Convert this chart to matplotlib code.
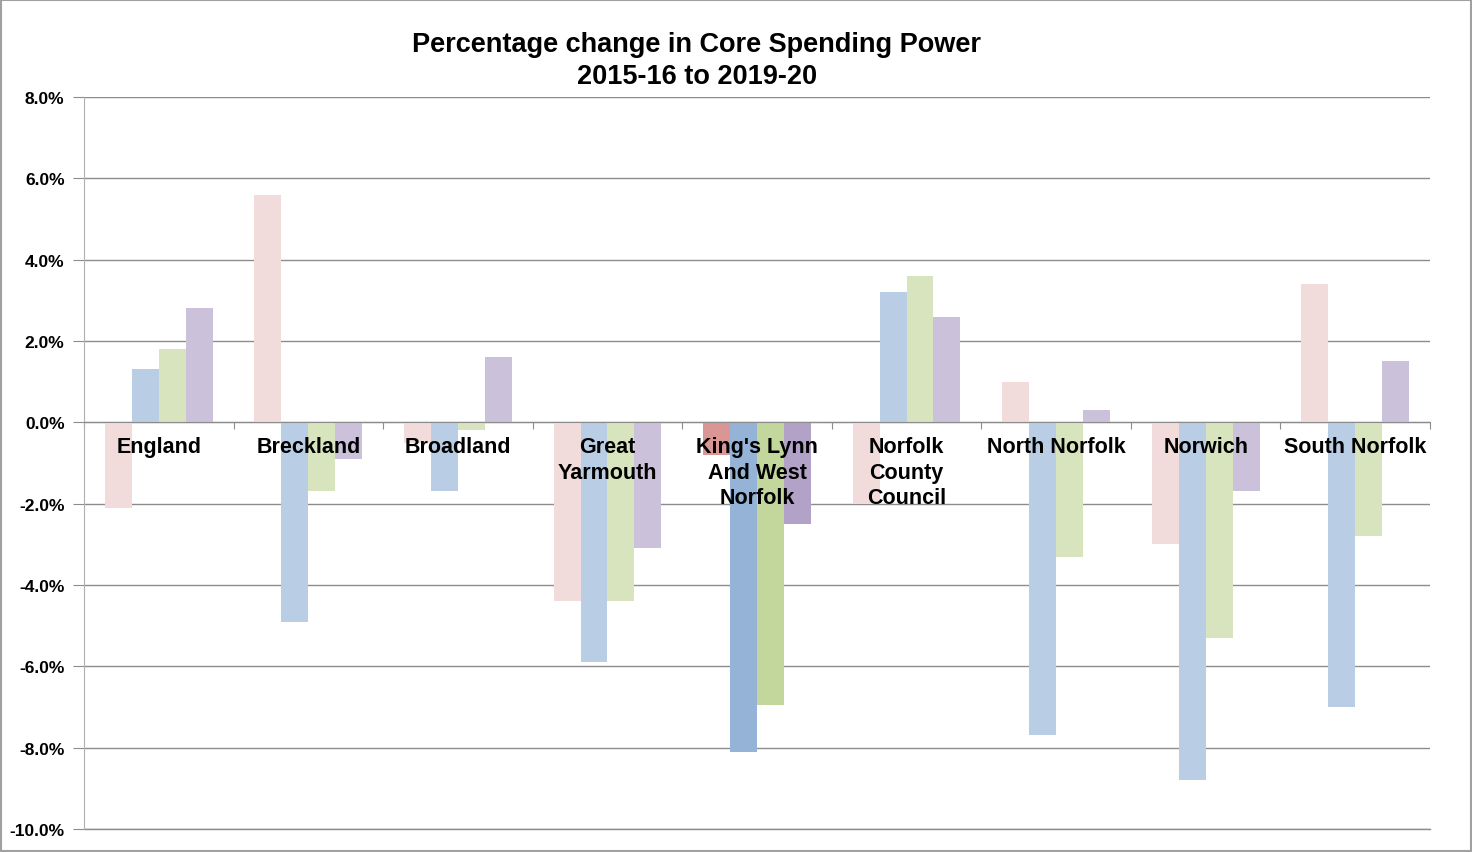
import matplotlib
matplotlib.use('Agg')
import matplotlib.pyplot as plt
import numpy as np

plt.rcParams['font.family'] = ['Liberation Sans', 'DejaVu Sans']

areas = ['England', 'Breckland', 'Broadland', 'Great\nYarmouth',
         "King's Lynn\nAnd West\nNorfolk", 'Norfolk\nCounty\nCouncil',
         'North Norfolk', 'Norwich', 'South Norfolk']
# four yearly series per area, percentage change
s1 = [-2.1, 5.6, -0.5, -4.4, -0.8, -2.0, 1.0, -3.0, 3.4]
s2 = [1.3, -4.9, -1.7, -5.9, -8.1, 3.2, -7.7, -8.8, -7.0]
s3 = [1.8, -1.7, -0.2, -4.4, -6.95, 3.6, -3.3, -5.3, -2.8]
s4 = [2.8, -0.9, 1.6, -3.1, -2.5, 2.6, 0.3, -1.7, 1.5]
highlight = 4

pale = ['#f2dcdb', '#b9cde5', '#d7e4bd', '#ccc1da']
strong = ['#d99694', '#95b3d7', '#c3d69b', '#b3a2c7']

fig = plt.figure(figsize=(14.72, 8.53), dpi=100)
ax = fig.add_axes([84/1472, 23/853, (1430-84)/1472, (830-98)/853])

x = np.arange(len(areas))
w = 0.18
for i, vals in enumerate([s1, s2, s3, s4]):
    cols = [strong[i] if j == highlight else pale[i] for j in range(len(areas))]
    ax.bar(x + (i - 1.5) * w, vals, w, color=cols, zorder=2)

ax.set_xlim(-0.5, len(areas) - 0.5)
ax.set_ylim(-10, 8)
ax.set_yticks(np.arange(-10, 8.1, 2))
ax.set_yticklabels(['%.1f%%' % v for v in np.arange(-10, 8.1, 2)],
                   fontsize=12.5, fontweight='bold')
ax.yaxis.grid(True, color='#8c8c8c', linewidth=1, zorder=0)
ax.axhline(-10, color='#8c8c8c', linewidth=1, clip_on=False, zorder=0)
ax.set_axisbelow(True)

for s in ['top', 'right']:
    ax.spines[s].set_visible(False)
ax.spines['left'].set_color('#b0b0b0')
ax.spines['bottom'].set_position(('data', 0))
ax.spines['bottom'].set_color('#8c8c8c')
ax.set_xticks(np.arange(-0.5, len(areas), 1))
ax.set_xticklabels([])
ax.tick_params(axis='x', length=5, color='#8c8c8c', direction='out')
ax.tick_params(axis='y', length=8, color='#8c8c8c', pad=6)

for j, name in enumerate(areas):
    ax.text(x[j], -0.33, name, ha='center', va='top', fontsize=15.5,
            fontweight='bold', linespacing=1.3, zorder=5)

fig.text(0.4735, 0.963, 'Percentage change in Core Spending Power\n2015-16 to 2019-20',
         ha='center', va='top', fontsize=19.5, fontweight='bold', linespacing=1.3)

fig.patches.append(plt.Rectangle((0.001, 0.001), 0.998, 0.998, transform=fig.transFigure,
                                 fill=False, edgecolor='#a0a0a0', linewidth=1.5))

fig.savefig('out.png', dpi=100)
